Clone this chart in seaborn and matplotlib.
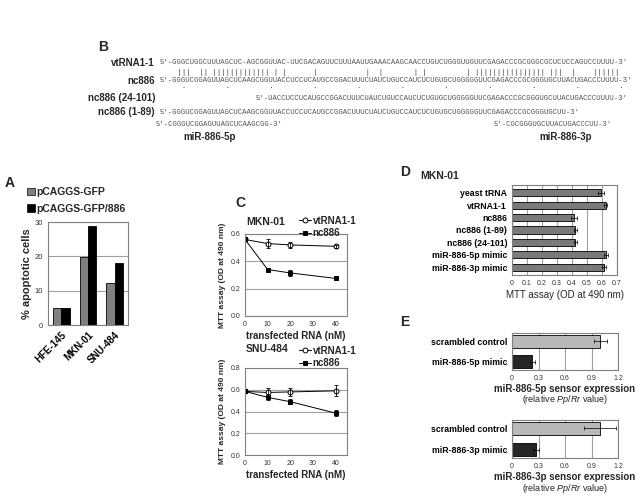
import numpy as np
import pandas as pd
import matplotlib
matplotlib.use('Agg')
import matplotlib.pyplot as plt
import seaborn as sns
from matplotlib.patches import Patch

# ---------------- data ----------------
# Panel A
cells = ['HFE-145', 'MKN-01', 'SNU-484']
constructs = ['pCAGGS-GFP', 'pCAGGS-GFP/886']
apopt_gfp = [5.0, 19.7, 12.3]
apopt_886 = [5.0, 28.8, 18.1]

# Panel B (sequences); offsets are counted in characters of the alignment
seq_names = ['vtRNA1-1', 'nc886', 'nc886 (24-101)', 'nc886 (1-89)']
seq_vt = "5'-GGGCUGGCUUUAGCUC-AGCGGUUAC-UUCGACAGUUCUUUAAUUGAAACAAGCAACCUGUCUGGGUUGUUCGAGACCCGCGGGCGCUCUCCAGUCCUUUU-3'"
seq_nc = "5'-GGGUCGGAGUUAGCUCAAGCGGUUACCUCCUCAUGCCGGACUUUCUAUCUGUCCAUCUCUGUGCUGGGGGUUCGAGACCCGCGGGUGCUUACUGACCCUUUU-3'"
seq_24 = "5'-UACCUCCUCAUGCCGGACUUUCUAUCUGUCCAUCUCUGUGCUGGGGGUUCGAGACCCGCGGGUGCUUACUGACCCUUUU-3'"
seq_189 = "5'-GGGUCGGAGUUAGCUCAAGCGGUUACCUCCUCAUGCCGGACUUUCUAUCUGUCCAUCUCUGUGCUGGGGGUUCGAGACCCGCGGGUGCUU-3'"
seq_5p = "5'-CGGGUCGGAGUUAGCUCAAGCGG-3'"
seq_3p = "5'-CGCGGGUGCUUACUGACCCUU-3'"
offset_24 = 22
offset_3p = 77
pair_line = "    |||  || ||||||||||||| | |      |           |  |       | |         | |||||||||||||||| |||  |    ||||||"
dot_line = "     .         .         .         .         .         .         .         .         .         .         ."
mir_names = ['miR-886-5p', 'miR-886-3p']

# Panel C
conc = [0, 10, 20, 40]
rnas = ['vtRNA1-1', 'nc886']
mkn_vt = [0.56, 0.53, 0.52, 0.51]
mkn_vt_err = [0.0, 0.03, 0.025, 0.01]
mkn_nc = [0.56, 0.34, 0.315, 0.275]
mkn_nc_err = [0.0, 0.0, 0.025, 0.015]
snu_vt = [0.585, 0.575, 0.58, 0.59]
snu_vt_err = [0.0, 0.04, 0.04, 0.05]
snu_nc = [0.585, 0.53, 0.49, 0.385]
snu_nc_err = [0.0, 0.02, 0.025, 0.025]

# Panel D
d_labels = ['yeast tRNA', 'vtRNA1-1', 'nc886', 'nc886 (1-89)', 'nc886 (24-101)',
            'miR-886-5p mimic', 'miR-886-3p mimic']
d_vals = [0.59, 0.625, 0.41, 0.42, 0.42, 0.625, 0.615]
d_err = [0.02, 0.01, 0.02, 0.01, 0.01, 0.015, 0.012]

# Panel E
e5_labels = ['scrambled control', 'miR-886-5p mimic']
e5_vals = [1.0, 0.23]
e5_err = [0.07, 0.03]
e3_labels = ['scrambled control', 'miR-886-3p mimic']
e3_vals = [1.0, 0.27]
e3_err = [0.18, 0.03]

# ---------------- style ----------------
sns.set_theme(style='white')
plt.rcParams['font.family'] = ['Liberation Sans', 'DejaVu Sans']
plt.rcParams['mathtext.fontset'] = 'custom'
plt.rcParams['mathtext.it'] = 'Liberation Sans:italic'
plt.rcParams['mathtext.rm'] = 'Liberation Sans'
plt.rcParams['axes.edgecolor'] = '#808080'
plt.rcParams['axes.linewidth'] = 0.8
plt.rcParams['xtick.color'] = '#808080'
plt.rcParams['ytick.color'] = '#808080'
plt.rcParams['xtick.labelcolor'] = '#333333'
plt.rcParams['ytick.labelcolor'] = '#333333'

W, H = 636, 503
fig = plt.figure(figsize=(W / 100, H / 100), dpi=100)
fig.patch.set_facecolor('white')


def rect(l, r, t, b):
    return [l / W, 1 - b / H, (r - l) / W, (b - t) / H]


def ftext(x, y, s, **kw):
    fig.text(x / W, 1 - y / H, s, **kw)


def style_ax(ax):
    for sp in ax.spines.values():
        sp.set_visible(True)
        sp.set_color('#808080')
        sp.set_linewidth(0.8)
    ax.tick_params(length=2, width=0.6, pad=1.5)


# ---------------- Panel B ----------------
ftext(103, 47, 'B', fontsize=10, fontweight='bold', va='center', ha='center')
MONO_SIZE = 5.2
CHAR_W = MONO_SIZE * 100 / 72 * 0.6
mono = dict(family='Liberation Mono', fontsize=MONO_SIZE, color='#555555', va='center', ha='left')
x0 = 160
ftext(x0, 63, seq_vt, **mono)
ftext(x0, 72, pair_line, **dict(mono, color='#444444'))
ftext(x0, 81, seq_nc, **mono)
ftext(x0, 86.5, dot_line, **dict(mono, color='#444444'))
ftext(x0 + offset_24 * CHAR_W, 98, seq_24, **mono)
ftext(x0, 112, seq_189, **mono)
ftext(x0 - 4, 125, seq_5p, **mono)
ftext(x0 + offset_3p * CHAR_W, 125, seq_3p, **mono)
lab = dict(fontsize=7, fontweight='bold', va='center', ha='right')
for name, y in zip(seq_names, [63, 81, 98, 112]):
    ftext(155, y, name, **lab)
ftext(210, 137, mir_names[0], fontsize=7, fontweight='bold', va='center', ha='center')
ftext(566, 137, mir_names[1], fontsize=7, fontweight='bold', va='center', ha='center')

# ---------------- Panel A ----------------
ftext(10, 183, 'A', fontsize=10, fontweight='bold', va='center', ha='center')
axA = fig.add_axes(rect(48, 128, 222, 325))
dfA = pd.DataFrame({'cell': cells * 2,
                    'construct': [constructs[0]] * 3 + [constructs[1]] * 3,
                    'value': apopt_gfp + apopt_886})
sns.barplot(data=dfA, x='cell', y='value', hue='construct', order=cells,
            hue_order=constructs, palette=['#808080', '#000000'],
            edgecolor='black', linewidth=0.6, width=0.62, ax=axA, legend=False)
axA.set_ylim(0, 30)
axA.set_yticks([0, 10, 20, 30])
axA.yaxis.grid(True, color='#a0a0a0', linewidth=0.8)
axA.set_axisbelow(True)
axA.set_xlabel('')
axA.set_ylabel('% apoptotic cells', fontsize=8, fontweight='bold', labelpad=2)
axA.tick_params(axis='y', labelsize=5.5)
axA.set_xticks(range(3))
axA.set_xticklabels(cells, rotation=45, ha='right', rotation_mode='anchor',
                    fontsize=7, fontweight='bold', color='black')
style_ax(axA)
axA.tick_params(axis='x', length=2)
legA = [Patch(facecolor='#808080', edgecolor='black', linewidth=0.5, label=constructs[0]),
        Patch(facecolor='black', edgecolor='black', linewidth=0.5, label=constructs[1])]
fig.legend(handles=legA, loc='upper left', bbox_to_anchor=(18 / W, 1 - 178 / H),
           frameon=False, handlelength=0.7, handleheight=0.7, handletextpad=0.2,
           labelspacing=0.6, prop=dict(family='Liberation Sans', weight='bold', size=7.5))

# ---------------- Panel C ----------------
ftext(240, 203, 'C', fontsize=10, fontweight='bold', va='center', ha='center')


def line_panel(box, title, vt, vt_err, nc, nc_err, ymax, yticks, title_y, leg_y):
    ax = fig.add_axes(rect(*box))
    df = pd.DataFrame({'nM': conc * 2, 'od': vt + nc,
                       'rna': [rnas[0]] * 4 + [rnas[1]] * 4})
    for rna, mk, fc, err in [(rnas[0], 'o', 'white', vt_err), (rnas[1], 's', 'black', nc_err)]:
        sub = df[df['rna'] == rna]
        sns.lineplot(data=sub, x='nM', y='od', color='black', marker=mk,
                     markerfacecolor=fc, markeredgecolor='black', markersize=3.5,
                     markeredgewidth=0.7, linewidth=0.7, ax=ax, label=rna)
        ax.errorbar(sub['nM'], sub['od'], yerr=err, fmt='none', ecolor='black',
                    elinewidth=0.6, capsize=1.5, capthick=0.6)
    ax.set_xlim(0, 45)
    ax.set_xticks([0, 10, 20, 30, 40])
    ax.set_ylim(0, ymax)
    ax.set_yticks(yticks)
    ax.set_yticklabels([f'{v:.1f}' for v in yticks])
    ax.yaxis.grid(True, color='#a0a0a0', linewidth=0.8)
    ax.set_axisbelow(True)
    ax.tick_params(labelsize=5)
    ax.set_xlabel('transfected RNA (nM)', fontsize=7, fontweight='bold', labelpad=2)
    ax.set_ylabel('MTT assay (OD at 490 nm)', fontsize=6, fontweight='bold', labelpad=3)
    style_ax(ax)
    fig.legend(handles=ax.get_legend_handles_labels()[0], loc='upper left',
               bbox_to_anchor=(294 / W, 1 - leg_y / H), frameon=False,
               handlelength=1.2, handletextpad=0.2, labelspacing=0.25,
               borderpad=0, prop=dict(family='Liberation Sans', weight='bold', size=7))
    ax.get_legend().remove()
    ftext(box[0] + 1, title_y, title, fontsize=7.5, fontweight='bold', va='center', ha='left')
    return ax


line_panel((245, 347, 234, 316), 'MKN-01', mkn_vt, mkn_vt_err, mkn_nc, mkn_nc_err,
           0.6, [0.0, 0.2, 0.4, 0.6], 222, 211)
line_panel((245, 347, 368, 455), 'SNU-484', snu_vt, snu_vt_err, snu_nc, snu_nc_err,
           0.8, [0.0, 0.2, 0.4, 0.6, 0.8], 349, 341)

# ---------------- Panel D ----------------
ftext(405, 172, 'D', fontsize=10, fontweight='bold', va='center', ha='center')
ftext(420, 176, 'MKN-01', fontsize=7.5, fontweight='bold', va='center', ha='left')
axD = fig.add_axes(rect(512, 617, 185, 275))
dfD = pd.DataFrame({'label': d_labels, 'val': d_vals})
sns.barplot(data=dfD, y='label', x='val', order=d_labels, color='#7a7a7a',
            edgecolor='black', linewidth=0.6, width=0.58, orient='h', ax=axD)
axD.errorbar(d_vals, range(len(d_labels)), xerr=d_err, fmt='none', ecolor='black',
             elinewidth=0.5, capsize=1.2, capthick=0.5)
axD.set_xlim(0, 0.7)
axD.set_xticks(np.arange(0, 0.71, 0.1))
axD.set_xticklabels(['0', '0.1', '0.2', '0.3', '0.4', '0.5', '0.6', '0.7'])
axD.xaxis.grid(True, color='#a0a0a0', linewidth=0.8)
axD.set_axisbelow(True)
axD.set_ylabel('')
axD.set_xlabel('MTT assay (OD at 490 nm)', fontsize=7, labelpad=2)
axD.tick_params(axis='x', labelsize=5)
axD.set_yticks(range(len(d_labels)))
axD.set_yticklabels(d_labels, fontsize=6.3, fontweight='bold', color='black')
style_ax(axD)

# ---------------- Panel E ----------------
ftext(405, 322, 'E', fontsize=10, fontweight='bold', va='center', ha='center')


def sensor_panel(box, labels, vals, errs, title):
    ax = fig.add_axes(rect(*box))
    df = pd.DataFrame({'label': labels, 'val': vals})
    sns.barplot(data=df, y='label', x='val', order=labels, hue='label',
                palette=['#b8b8b8', '#262626'], edgecolor='black', linewidth=0.6,
                width=0.62, orient='h', ax=ax, legend=False)
    ax.errorbar(vals, range(len(labels)), xerr=errs, fmt='none', ecolor='black',
                elinewidth=0.5, capsize=1.2, capthick=0.5)
    ax.set_xlim(0, 1.2)
    ax.set_xticks([0, 0.3, 0.6, 0.9, 1.2])
    ax.set_xticklabels(['0', '0.3', '0.6', '0.9', '1.2'])
    ax.xaxis.grid(True, color='#a0a0a0', linewidth=0.8)
    ax.set_axisbelow(True)
    ax.set_ylabel('')
    ax.set_xlabel(title, fontsize=7, fontweight='bold', labelpad=1.5)
    ax.tick_params(axis='x', labelsize=5)
    ax.set_yticks(range(len(labels)))
    ax.set_yticklabels(labels, fontsize=6.3, fontweight='bold', color='black')
    style_ax(ax)
    ax.text(0.5, -0.80, r'(relative $\it{Pp/Rr}$ value)', transform=ax.transAxes,
            ha='center', va='center', fontsize=6.5, color='#222222')
    return ax


sensor_panel((512, 618, 333, 370), e5_labels, e5_vals, e5_err, 'miR-886-5p sensor expression')
sensor_panel((512, 618, 420, 458), e3_labels, e3_vals, e3_err, 'miR-886-3p sensor expression')

fig.savefig('out.png', dpi=100, facecolor='white')
